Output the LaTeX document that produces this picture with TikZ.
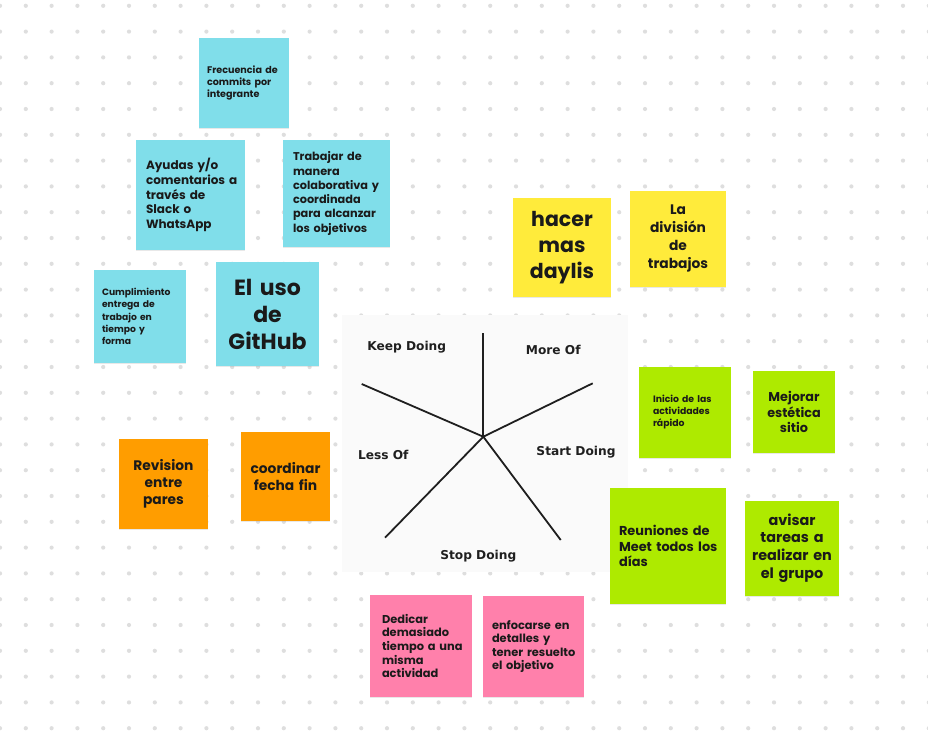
\documentclass[tikz,border=0pt]{standalone}
\usepackage{fontspec}
\setmainfont{Poppins}
\newfontfamily\verd{DejaVu Sans}
\usetikzlibrary{shadows}
\definecolor{ncyan}{HTML}{80DEEA}
\definecolor{nyellow}{HTML}{FFEB3B}
\definecolor{ngreen}{HTML}{AEEA00}
\definecolor{norange}{HTML}{FF9D00}
\definecolor{npink}{HTML}{FF80AB}
\definecolor{dotc}{HTML}{DEDEDE}
\definecolor{ink}{HTML}{1A1A1A}
\definecolor{panelc}{HTML}{FAFAFA}
\newcommand\ml[1]{\mbox{#1}}
\begin{document}
\begin{tikzpicture}[x=1pt,y=-1pt,
  note/.style={rectangle, inner ysep=0pt, text=ink, drop shadow={shadow xshift=0pt,shadow yshift=-1.3pt,opacity=0.18}},
  lnote/.style={note, align=left},
  cnote/.style={note, align=center, inner xsep=0pt},
  axis/.style={draw=black!88, line width=1.8pt},
  lab/.style={font=\verd\bfseries\fontsize{12.2}{14}\selectfont, text=black!88}]
\useasboundingbox (0,0) rectangle (928,750);
\fill[white] (0,0) rectangle (928,750);
\foreach \i in {0,...,36}{
  \foreach \j in {0,...,29}{
    \fill[dotc] (25.8*\i,5.8+25.8*\j) circle (2.1pt);
  }
}
% center panel
\fill[panelc] (342,315) rectangle (628,572);
\coordinate (c) at (483.3,436.7);
\coordinate (t) at (483.3,332.7);
\coordinate (ul) at (361.7,384);
\coordinate (ur) at (592.7,383.3);
\coordinate (ll) at (385,537.7);
\coordinate (lr) at (560.7,540);
\draw[axis] (c) -- (t);
\draw[axis] (c) -- (ul);
\draw[axis] (c) -- (ur);
\draw[axis] (c) -- (ll);
\draw[axis] (c) -- (lr);
\node[lab] (keep) at (406.7,346.7) {Keep Doing};
\node[lab] (more) at (553.3,350) {More Of};
\node[lab] (less) at (383.3,455) {Less Of};
\node[lab] (start) at (576,451.7) {Start Doing};
\node[lab] (stop) at (478.3,556) {Stop Doing};
% cyan notes
\node[lnote, fill=ncyan, minimum width=90pt, minimum height=90pt, inner xsep=8pt, text width=74pt,
  font=\bfseries\fontsize{9.6}{12}\selectfont] (n1) at (244,83) {\ml{Frecuencia de}\\\ml{commits por}\\\ml{integrante}};
\node[lnote, fill=ncyan, minimum width=109pt, minimum height=110pt, inner xsep=10pt, text width=89pt,
  font=\bfseries\fontsize{12}{14.8}\selectfont] (n2) at (190.5,195) {\ml{Ayudas y/o}\\\ml{comentarios a}\\\ml{través de}\\\ml{Slack o}\\\ml{WhatsApp}};
\node[lnote, fill=ncyan, minimum width=107pt, minimum height=107pt, inner xsep=10pt, text width=87pt,
  font=\bfseries\fontsize{11.3}{14.3}\selectfont] (n3) at (336.5,193.5) {\ml{Trabajar de}\\\ml{manera}\\\ml{colaborativa y}\\\ml{coordinada}\\\ml{para alcanzar}\\\ml{los objetivos}};
\node[lnote, fill=ncyan, minimum width=92pt, minimum height=93pt, inner xsep=8pt, text width=76pt,
  font=\bfseries\fontsize{9.2}{12.4}\selectfont] (n4) at (140,316.5) {\ml{Cumplimiento}\\\ml{entrega de}\\\ml{trabajo en}\\\ml{tiempo y}\\\ml{forma}};
\node[cnote, fill=ncyan, minimum width=103pt, minimum height=104pt, text width=103pt,
  font=\bfseries\fontsize{22}{27}\selectfont] (n5) at (267.5,314) {El uso\\de\\GitHub};
% yellow notes
\node[cnote, fill=nyellow, minimum width=98pt, minimum height=99pt, text width=98pt,
  font=\bfseries\fontsize{20.5}{26}\selectfont] (n6) at (562,247.5) {hacer\\mas\\daylis};
\node[cnote, fill=nyellow, minimum width=96pt, minimum height=96pt, text width=96pt,
  font=\bfseries\fontsize{13.8}{18}\selectfont] (n7) at (678,238.5) {La\\división\\de\\trabajos};
% green notes
\node[lnote, fill=ngreen, minimum width=92pt, minimum height=91pt, inner xsep=14pt, text width=64pt,
  font=\bfseries\fontsize{9.3}{12}\selectfont] (n9) at (685,412.5) {\ml{Inicio de las}\\\ml{actividades}\\\ml{rápido}};
\node[cnote, fill=ngreen, minimum width=82pt, minimum height=82pt, text width=82pt,
  font=\bfseries\fontsize{12.8}{15.5}\selectfont] (n10) at (794,412) {Mejorar\\estética\\sitio};
\node[lnote, fill=ngreen, minimum width=116pt, minimum height=116pt, inner xsep=9pt, text width=98pt,
  font=\bfseries\fontsize{12.9}{15.5}\selectfont] (n11) at (668,546) {\ml{Reuniones de}\\\ml{Meet todos los}\\\ml{días}};
\node[cnote, fill=ngreen, minimum width=94pt, minimum height=95pt, text width=94pt,
  font=\bfseries\fontsize{14.4}{17.7}\selectfont] (n12) at (792,548) {avisar\\tareas a\\realizar en\\el grupo};
% orange notes
\node[cnote, fill=norange, minimum width=89pt, minimum height=90pt, text width=89pt,
  font=\bfseries\fontsize{13.8}{17}\selectfont] (n13) at (163.5,483.5) {Revision\\entre\\pares};
\node[cnote, fill=norange, minimum width=89pt, minimum height=89pt, text width=89pt,
  font=\bfseries\fontsize{13.8}{17}\selectfont] (n14) at (285.5,476.5) {coordinar\\fecha fin};
% pink notes
\node[lnote, fill=npink, minimum width=102pt, minimum height=102pt, inner xsep=12pt, text width=78pt,
  font=\bfseries\fontsize{11.4}{13.6}\selectfont] (n15) at (421,646) {\ml{Dedicar}\\\ml{demasiado}\\\ml{tiempo a una}\\\ml{misma}\\\ml{actividad}};
\node[lnote, fill=npink, minimum width=101pt, minimum height=101pt, inner xsep=9pt, text width=83pt,
  font=\bfseries\fontsize{11.4}{13.6}\selectfont] (n16) at (533.5,646.5) {\ml{enfocarse en}\\\ml{detalles y}\\\ml{tener resuelto}\\\ml{el objetivo}};
\end{tikzpicture}
\end{document}
